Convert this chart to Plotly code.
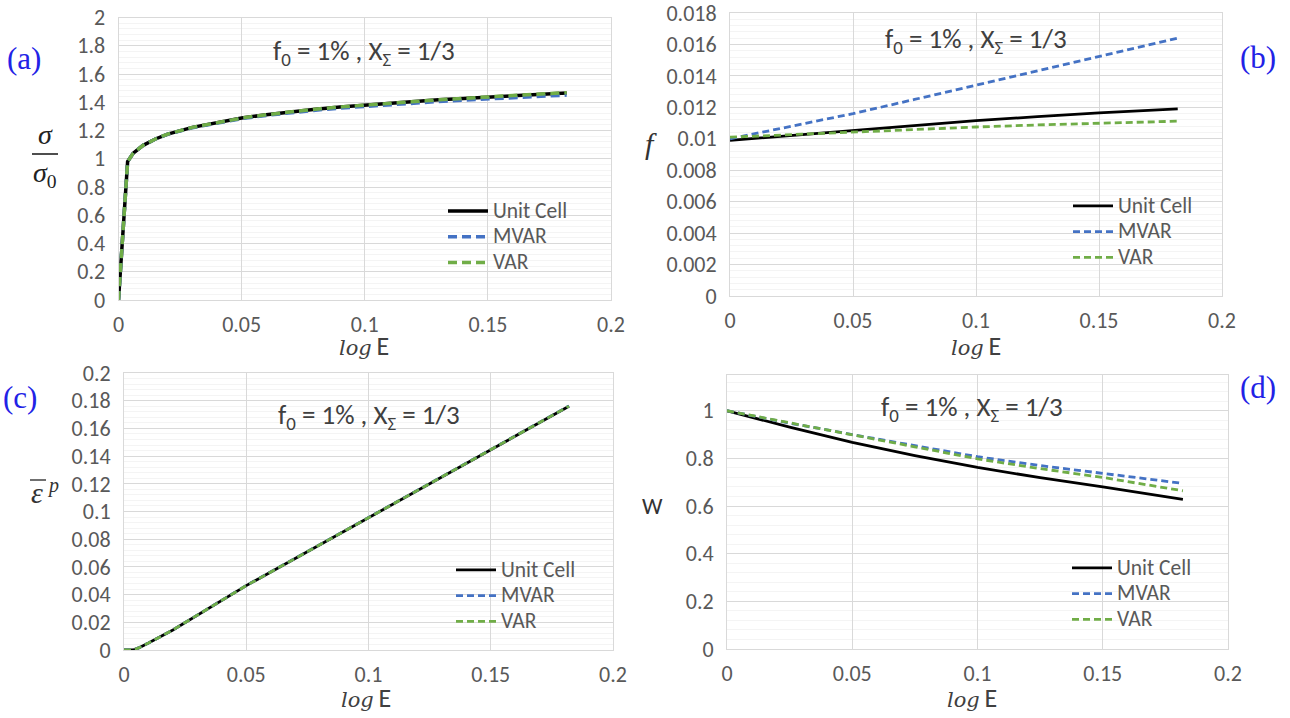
import plotly.graph_objects as go

W, H = 1290, 718

# ---------------- data ----------------
series_names = ["Unit Cell", "MVAR", "VAR"]
series_colors = ["#000000", "#4472C4", "#70AD47"]

# (a) normalized stress vs log E
logE_a = [0, 0.0037, 0.006, 0.01, 0.015, 0.02, 0.03, 0.04, 0.05, 0.06, 0.07, 0.08,
          0.09, 0.10, 0.11, 0.12, 0.13, 0.14, 0.15, 0.16, 0.17, 0.182]
sig_uc = [0, 0.98, 1.04, 1.095, 1.14, 1.175, 1.222, 1.258, 1.288, 1.312, 1.333, 1.351,
          1.367, 1.381, 1.394, 1.406, 1.417, 1.427, 1.437, 1.446, 1.455, 1.466]
sig_mvar = [0, 0.98, 1.04, 1.095, 1.14, 1.174, 1.220, 1.255, 1.284, 1.307, 1.327, 1.344,
            1.359, 1.372, 1.384, 1.395, 1.405, 1.415, 1.424, 1.433, 1.441, 1.451]
sig_var = [0, 0.98, 1.04, 1.095, 1.14, 1.175, 1.222, 1.258, 1.288, 1.312, 1.333, 1.351,
           1.367, 1.381, 1.394, 1.406, 1.417, 1.428, 1.438, 1.448, 1.457, 1.468]

# (b) porosity f vs log E
logE_b = [0, 0.025, 0.05, 0.075, 0.1, 0.125, 0.15, 0.182]
f_uc = [0.00990, 0.01022, 0.01055, 0.01086, 0.01115, 0.01141, 0.01165, 0.01190]
f_mvar = [0.0100, 0.0108, 0.0116, 0.0125, 0.0134, 0.0143, 0.0152, 0.0164]
f_var = [0.0101, 0.01027, 0.01043, 0.0106, 0.01075, 0.01088, 0.0110, 0.01112]

# (c) equivalent plastic strain vs log E
logE_c = [0, 0.0037, 0.006, 0.01, 0.02, 0.05, 0.1, 0.15, 0.182]
ep_uc = [0, 0, 0.0015, 0.005, 0.0145, 0.0465, 0.0955, 0.1445, 0.176]
ep_mvar = [0, 0, 0.0015, 0.005, 0.0145, 0.0466, 0.0956, 0.1446, 0.1762]
ep_var = [0, 0, 0.0015, 0.005, 0.0145, 0.0465, 0.0955, 0.1445, 0.1761]

# (d) void shape parameter W vs log E
logE_d = [0, 0.025, 0.05, 0.075, 0.1, 0.125, 0.15, 0.182]
w_uc = [1.0, 0.931, 0.867, 0.812, 0.762, 0.719, 0.680, 0.628]
w_mvar = [1.0, 0.948, 0.900, 0.852, 0.807, 0.770, 0.737, 0.695]
w_var = [1.0, 0.950, 0.899, 0.848, 0.798, 0.757, 0.720, 0.664]

x_ticks = [0, 0.05, 0.1, 0.15, 0.2]

# ---------------- layout helpers ----------------
def px(x):
    return x / W

def py(y):
    return 1 - y / H

SANS = "Carlito, Lato, sans-serif"
TICKFONT = dict(family=SANS, size=22, color="#595959")
GRID = "#d9d9d9"
MINOR = "#f4f4f4"

panels = [
    dict(x=(118.5, 611), y=(17.5, 300), yr=[0, 2.0001], dy=0.2,
         xs=logE_a, ys=[sig_uc, sig_mvar, sig_var], w=3.5, dash="9px,5px"),
    dict(x=(730, 1222), y=(13, 296), yr=[0, 0.0180001], dy=0.002,
         xs=logE_b, ys=[f_uc, f_mvar, f_var], w=2.8, dash="7px,4px"),
    dict(x=(124, 613), y=(373, 650), yr=[0, 0.200001], dy=0.02,
         xs=logE_c, ys=[ep_uc, ep_mvar, ep_var], w=2.8, dash="7px,4px"),
    dict(x=(727, 1228), y=(375, 649), yr=[0, 1.15], dy=0.2,
         xs=logE_d, ys=[w_uc, w_mvar, w_var], w=2.8, dash="7px,4px"),
]

legend_pos = [(443, 193), (1068, 188), (451, 552), (1067, 550)]

fig = go.Figure()
layout = dict(width=W, height=H, margin=dict(l=0, r=0, t=0, b=0),
              paper_bgcolor="white", plot_bgcolor="white", showlegend=True)

for i, p in enumerate(panels):
    n = "" if i == 0 else str(i + 1)
    xa, ya = "xaxis" + n, "yaxis" + n
    lg = "legend" + n
    layout[xa] = dict(domain=[px(p["x"][0]), px(p["x"][1])], anchor="y" + n,
                      range=[0, 0.2], tickvals=x_ticks, showgrid=True, gridcolor=GRID,
                      gridwidth=1, zeroline=False, showline=True, mirror=True,
                      linecolor=GRID, linewidth=1, ticks="outside", ticklen=5,
                      tickcolor="rgba(0,0,0,0)", tickfont=TICKFONT, fixedrange=True,
                      automargin=False, ticklabeloverflow="allow")
    layout[ya] = dict(domain=[py(p["y"][1]), py(p["y"][0])], anchor="x" + n,
                      range=p["yr"], dtick=p["dy"], tick0=0, showgrid=True,
                      gridcolor=GRID, gridwidth=1, zeroline=False, showline=True,
                      mirror=True, linecolor=GRID, linewidth=1, ticks="outside",
                      ticklen=8, tickcolor="rgba(0,0,0,0)", tickfont=TICKFONT,
                      minor=dict(dtick=p["dy"] / 5, showgrid=True, gridcolor=MINOR,
                                 ticks=""),
                      fixedrange=True, automargin=False, ticklabeloverflow="allow")
    lx, ly = legend_pos[i]
    layout[lg] = dict(x=px(lx), y=py(ly), xanchor="left", yanchor="top",
                      bgcolor="rgba(0,0,0,0)", borderwidth=0,
                      font=dict(family=SANS, size=17.5, color="#595959"),
                      itemwidth=40, tracegroupgap=0, itemclick=False)
    for j, name in enumerate(series_names):
        fig.add_trace(go.Scatter(
            x=p["xs"], y=p["ys"][j], mode="lines",
            name='<span style="font-size:21.5px">' + name + '</span>',
            xaxis="x" + n, yaxis="y" + n, legend=lg,
            line=dict(color=series_colors[j], width=p["w"],
                      dash="solid" if j == 0 else p["dash"]),
            hoverinfo="skip"))

fig.update_layout(**layout)

ann = []
def add(x, y, text, size, color="#404040", family=SANS,
        xanchor="center", yanchor="middle"):
    ann.append(dict(x=px(x), y=py(y), xref="paper", yref="paper", text=text,
                    showarrow=False, xanchor=xanchor, yanchor=yanchor,
                    font=dict(size=size, color=color, family=family)))

cond = "f<sub>0</sub> = 1% , X<sub>Σ</sub> = 1/3"
for (cx, cy) in [(364, 52), (976, 40), (369, 416), (972, 408)]:
    add(cx, cy, cond, 27, color="#404040")

logE = ('<span style="font-family:DejaVu Serif"><i>log</i></span> '
        '<span style="font-size:26px">E</span>')
for (cx, cy) in [(364, 346), (976, 346), (366, 698), (972, 698)]:
    add(cx, cy, logE, 21, color="#404040")

blue = "#2222e6"
serif = "Liberation Serif, DejaVu Serif, serif"
add(24, 58, "(a)", 31, color=blue, family=serif)
add(1258, 57, "(b)", 31, color=blue, family=serif)
add(20, 398, "(c)", 31, color=blue, family=serif)
add(1258, 388, "(d)", 31, color=blue, family=serif)

# y-axis titles
add(45, 134, "<i>σ</i>", 28, color="#222222", family=serif)
add(45, 174, "<i>σ</i><sub>0</sub>", 28, color="#222222", family=serif)
add(651, 143, "<i>f</i>", 30, color="#333333", family=serif)
add(37, 492, "<i>ε</i>", 30, color="#333333", family=serif)
add(53, 485, "<i>p</i>", 20, color="#333333", family=serif)
add(652, 506, "W", 23, color="#333333")

shapes = [
    dict(type="line", xref="paper", yref="paper", x0=px(32), x1=px(58),
         y0=py(154), y1=py(154), line=dict(color="#222222", width=1.6)),
    dict(type="line", xref="paper", yref="paper", x0=px(30), x1=px(46),
         y0=py(480), y1=py(480), line=dict(color="#333333", width=1.4)),
]

fig.update_layout(annotations=ann, shapes=shapes)
fig.write_html("out.html")
